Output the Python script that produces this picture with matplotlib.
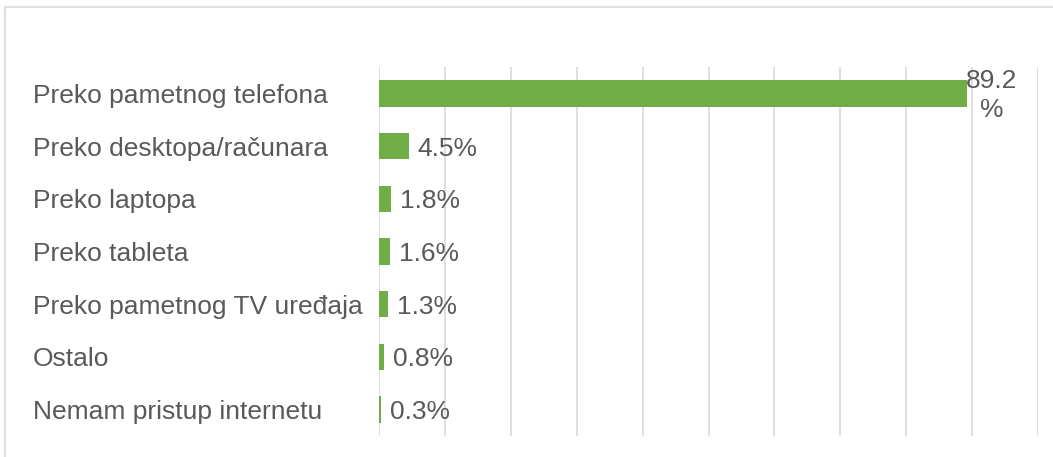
import matplotlib.pyplot as plt
from matplotlib.lines import Line2D

categories = ["Preko pametnog telefona", "Preko desktopa/računara", "Preko laptopa",
              "Preko tableta", "Preko pametnog TV uređaja", "Ostalo",
              "Nemam pristup internetu"]
values = [89.2, 4.5, 1.8, 1.6, 1.3, 0.8, 0.3]
value_labels = ["89.2\n%", "4.5%", "1.8%", "1.6%", "1.3%", "0.8%", "0.3%"]

plt.rcParams['font.family'] = ['Liberation Sans', 'DejaVu Sans']
txt_color = "#595959"

fig = plt.figure(figsize=(10.53, 4.57), dpi=100)
ax = fig.add_axes([379 / 1053, 1 - 436 / 457, (1038 - 379) / 1053, (436 - 67) / 457])

y = list(range(len(categories)))
ax.barh(y, values, height=0.5, color="#70AD47", zorder=3)
ax.set_xlim(0, 100)
ax.set_ylim(len(categories) - 0.5, -0.5)
ax.set_xticks(range(0, 101, 10))
ax.xaxis.grid(True, color="#D9D9D9", linewidth=1.2, zorder=0)
ax.tick_params(axis='x', length=0, labelbottom=False)
ax.tick_params(axis='y', length=0, labelleft=False)
for s in ax.spines.values():
    s.set_visible(False)

# category labels, left aligned at the chart's left margin
for i, c in enumerate(categories):
    ax.annotate(c, xy=(33 / 1053, i), xycoords=('figure fraction', 'data'),
                fontsize=19, color=txt_color, va='center_baseline', ha='left')

for i, (v, lab) in enumerate(zip(values, value_labels)):
    if "\n" in lab:
        ax.annotate(lab, xy=(v, i), xytext=(25, -2), textcoords='offset pixels',
                    fontsize=19, color=txt_color, va='center', ha='center',
                    linespacing=1.25)
    else:
        ax.annotate(lab, xy=(v, i), xytext=(9, 0), textcoords='offset pixels',
                    fontsize=19, color=txt_color, va='center_baseline', ha='left')

# light frame on top and left
fig.add_artist(Line2D([5 / 1053, 5 / 1053], [0, 1 - 7 / 457], color="#E0E0E0", linewidth=1.5))
fig.add_artist(Line2D([5 / 1053, 1], [1 - 7 / 457, 1 - 7 / 457], color="#E0E0E0", linewidth=1.5))

fig.savefig("out.png", dpi=100, facecolor="white")
